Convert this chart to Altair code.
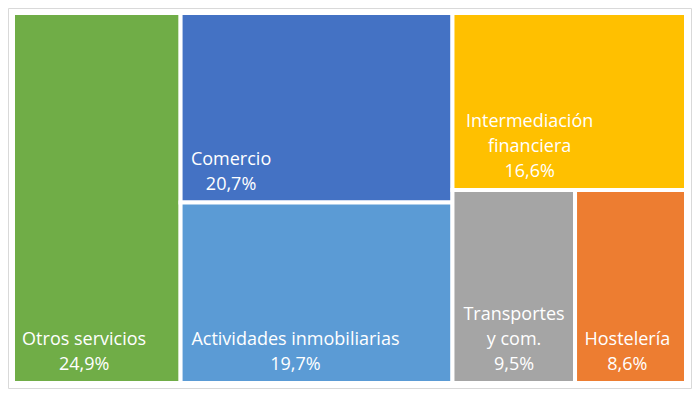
import altair as alt
import pandas as pd

# ---- data ----
categories = ["Otros servicios", "Comercio", "Actividades inmobiliarias",
              "Intermediación\nfinanciera", "Transportes\ny com.", "Hostelería"]
values = [24.9, 20.7, 19.7, 16.6, 9.5, 8.6]
pct_labels = ["24,9%", "20,7%", "19,7%", "16,6%", "9,5%", "8,6%"]
colors = ["#70AD47", "#4472C4", "#5B9BD5", "#FFC000", "#A5A5A5", "#ED7D31"]
# nesting of the treemap (slice and dice, alternating direction)
structure = [0, [1, 2], [3, [4, 5]]]

W, H = 673, 370
FONT = "Open Sans"
FS = 18
LINE = 25


def total(node):
    if isinstance(node, int):
        return values[node]
    return sum(total(c) for c in node)


def layout(node, x0, y0, x1, y1, horizontal, out):
    if isinstance(node, int):
        out[node] = (x0, y0, x1, y1)
        return
    t = total(node)
    pos = x0 if horizontal else y0
    for c in node:
        frac = total(c) / t
        if horizontal:
            nx = pos + (x1 - x0) * frac
            layout(c, pos, y0, nx, y1, False, out)
            pos = nx
        else:
            ny = pos + (y1 - y0) * frac
            layout(c, x0, pos, x1, ny, True, out)
            pos = ny


rects = {}
layout(structure, 0.0, 0.0, 1.0, 1.0, True, rects)

CW = {'a': .56, 'b': .61, 'c': .48, 'd': .61, 'e': .56, 'f': .34, 'g': .55, 'h': .61,
      'i': .26, 'j': .26, 'k': .53, 'l': .26, 'm': .93, 'n': .61, 'o': .6, 'p': .61,
      'q': .61, 'r': .41, 's': .48, 't': .35, 'u': .61, 'v': .5, 'w': .78, 'x': .52,
      'y': .5, 'z': .47, ',': .25, '.': .27, ' ': .26, '%': .82, 'ó': .6, 'í': .26,
      'á': .56}


def text_w(s):
    w = 0
    for ch in s:
        if ch in CW:
            w += CW[ch]
        elif ch.isdigit():
            w += .57
        elif ch.isupper():
            w += .66
        else:
            w += .55
    return w * FS * 1.0


rect_rows = []
text_rows = []
for i, cat in enumerate(categories):
    x0, y0, x1, y1 = rects[i]
    rect_rows.append({"cat": cat.replace("\n", " "), "x0": x0, "x1": x1,
                      "y0": y0, "y1": y1, "color": colors[i]})
    lines = cat.split("\n") + [pct_labels[i]]
    bw = max(text_w(l) for l in lines)
    cx = x0 + (2 + 8 + bw / 2) / W
    n = len(lines)
    for j, l in enumerate(lines):
        ty = y1 - (13 + (n - 1 - j) * LINE) / H
        text_rows.append({"t": l, "x": cx, "y": ty})

rdf = pd.DataFrame(rect_rows)
tdf = pd.DataFrame(text_rows)

xs = alt.Scale(domain=[0, 1], nice=False, zero=False)
ys = alt.Scale(domain=[0, 1], nice=False, zero=False, reverse=True)

rect_layer = alt.Chart(rdf).mark_rect(stroke="white", strokeWidth=4).encode(
    x=alt.X("x0:Q", scale=xs, axis=None),
    x2="x1:Q",
    y=alt.Y("y0:Q", scale=ys, axis=None),
    y2="y1:Q",
    color=alt.Color("color:N", scale=None),
)

text_layer = alt.Chart(tdf).mark_text(
    font=FONT, fontSize=FS, color="white", align="center", baseline="alphabetic"
).encode(
    x=alt.X("x:Q", scale=xs, axis=None),
    y=alt.Y("y:Q", scale=ys, axis=None),
    text="t:N",
)

frame = alt.Chart(pd.DataFrame({"k": [0]})).mark_rect(
    fillOpacity=0, stroke="#D9D9D9", strokeWidth=1
).encode(
    x=alt.value(-4.5), x2=alt.value(W + 5.5),
    y=alt.value(-4.5), y2=alt.value(H + 5.5),
)

chart = alt.layer(rect_layer, text_layer, frame).properties(
    width=W, height=H,
    padding={"left": 5, "top": 5, "right": 6, "bottom": 6},
    autosize=alt.AutoSizeParams(type="none"),
    background="white",
).configure_view(stroke=None)

chart.save("out.html", embed_options={"renderer": "svg", "actions": False})
